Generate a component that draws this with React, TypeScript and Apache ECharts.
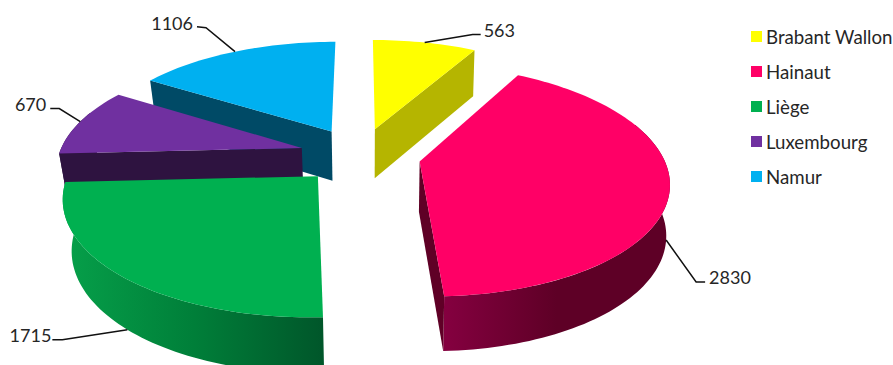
import React, { useEffect, useRef } from "react";
import * as echarts from "echarts";

// Population by Walloon province
const provinces = ["Brabant Wallon", "Hainaut", "Liège", "Luxembourg", "Namur"];
const counts = [563, 2830, 1715, 670, 1106];

// Face colours per province
const topColors = ["#FFFF00", "#FF0066", "#00B050", "#7030A0", "#00B0F0"];
const cutColors = ["#B5B500", "#5F0026", "#00692F", "#2E1340", "#004A66"];
const wallStops = [
  ["#B5B500", "#B5B500"],
  ["#850040", "#5E0026", "#5E0026"],
  ["#06A04A", "#007F39", "#00562A"],
  ["#2E1340", "#2E1340"],
  ["#004A66", "#004A66"],
];

// Painting order per province, back slices first
const paintOrder = [1, 5, 4, 3, 2];

// Leader geometry, relative to the rim anchor of each slice: elbow, end, label position
const leaderElbow = [[48, -8], [30, 42], [-65, 10], [-21, -13], [-29, -24]];
const leaderEnd = [[56, -8], [39, 42], [-75, 10], [-30, -13], [-38, -25]];
const labelPos = [[59, -13], [43, 37], [-76, 5], [-34, -18], [-42, -29]];
const labelAlign = ["left", "left", "right", "right", "right"];

// Perspective camera
const CX = 360, CY = 155, RADIUS = 243, TILT = 111, PERSP = 0.16;
const DEPTH = 50, CONVERGE_LEFT = 0.03, CONVERGE_RIGHT = 0.012, EXPLODE = 0.25;
const MIN_FACE_AREA = 300;

const rad = (d: number) => (d * Math.PI) / 180;

function project(wx: number, wy: number, bottom: boolean): number[] {
  const s = 1 / (1 - PERSP * wy);
  let x = CX + RADIUS * wx * s;
  let y = CY + TILT * wy * s;
  if (bottom) {
    x += (CX - x) * (x < CX ? CONVERGE_LEFT : CONVERGE_RIGHT);
    y += DEPTH * Math.sqrt(s);
  }
  return [x, y];
}

function signedArea(p: number[][]): number {
  let a = 0;
  for (let i = 0; i < p.length; i++) {
    const q = p[(i + 1) % p.length];
    a += p[i][0] * q[1] - q[0] * p[i][1];
  }
  return a / 2;
}

const total = counts.reduce((s, v) => s + v, 0);

function makeRenderItem(index: number) {
  const before = counts.slice(0, index).reduce((s, v) => s + v, 0);
  return (_params: any, api: any) => {
    const value = api.value(0);
    const start = (before / total) * 360;
    const end = start + (value / total) * 360;
    const mid = (start + end) / 2;
    const ox = Math.sin(rad(mid)) * EXPLODE;
    const oy = -Math.cos(rad(mid)) * EXPLODE;
    const rim = (deg: number, bottom: boolean) =>
      project(ox + Math.sin(rad(deg)), oy - Math.cos(rad(deg)), bottom);
    const apexTop = project(ox, oy, false);
    const apexBottom = project(ox, oy, true);

    const arc = (from: number, to: number, bottom: boolean) => {
      const n = Math.max(2, Math.ceil((to - from) / 1.5));
      const pts: number[][] = [];
      for (let i = 0; i <= n; i++) pts.push(rim(from + ((to - from) * i) / n, bottom));
      return pts;
    };

    const children: any[] = [];

    // Outer wall, front-facing stretch only
    const wallFrom = Math.max(start, 70);
    const wallTo = Math.min(end, 290);
    if (wallTo > wallFrom) {
      const stops = wallStops[index];
      children.push({
        type: "polygon",
        shape: { points: [...arc(wallFrom, wallTo, false), ...arc(wallFrom, wallTo, true).reverse()] },
        style: {
          fill: {
            type: "linear", x: 0, y: 0, x2: 1, y2: 0,
            colorStops: stops.map((color, i) => ({ offset: i / (stops.length - 1), color })),
          },
        },
      });
    }

    // Cut faces that turn toward the viewer
    [start, end].forEach((deg, i) => {
      const face = [apexTop, rim(deg, false), rim(deg, true), apexBottom];
      const area = signedArea(face) * (i === 0 ? -1 : 1);
      if (area > MIN_FACE_AREA) {
        children.push({ type: "polygon", shape: { points: face }, style: { fill: cutColors[index] } });
      }
    });

    // Top face
    children.push({
      type: "polygon",
      shape: { points: [apexTop, ...arc(start, end, false)] },
      style: { fill: topColors[index] },
    });

    // Leader and value label: front slices anchor on the lower rim
    const front = -Math.cos(rad(mid)) > 0;
    const anchor = rim(mid, front);
    const at = (o: number[]) => [anchor[0] + o[0], anchor[1] + o[1]];
    children.push({
      type: "polyline",
      shape: { points: [anchor, at(leaderElbow[index]), at(leaderEnd[index])] },
      style: { stroke: "#111111", lineWidth: 1.5, fill: "none" },
    });
    const lp = at(labelPos[index]);
    children.push({
      type: "text",
      x: lp[0],
      y: lp[1],
      style: {
        text: String(value),
        fill: "#262626",
        fontFamily: "Lato",
        fontSize: 18,
        align: labelAlign[index],
        verticalAlign: "middle",
      },
    });

    return { type: "group", children };
  };
}

export default function App() {
  const ref = useRef<HTMLDivElement>(null);
  useEffect(() => {
    const chart = echarts.init(ref.current!, null, { renderer: "svg" });
    chart.setOption({
      animation: false,
      color: topColors,
      legend: {
        orient: "vertical",
        left: 751,
        top: 26,
        itemWidth: 11,
        itemHeight: 11,
        itemGap: 14,
        icon: "rect",
        padding: 0,
        data: provinces,
        textStyle: {
          fontFamily: "Lato",
          fontSize: 18.7,
          color: "#262626",
          padding: [0, 0, 0, -1],
          height: 21,
          lineHeight: 21,
        },
      },
      series: provinces.map((name, i) => ({
        type: "custom",
        name,
        coordinateSystem: "none",
        silent: true,
        z: paintOrder[i],
        itemStyle: { color: topColors[i] },
        data: [[counts[i]]],
        renderItem: makeRenderItem(i),
      })),
    });
    return () => chart.dispose();
  }, []);
  return (
    <div
      ref={ref}
      style={{ position: "fixed", left: 0, top: 0, width: 893, height: 365, background: "#fff" }}
    />
  );
}
